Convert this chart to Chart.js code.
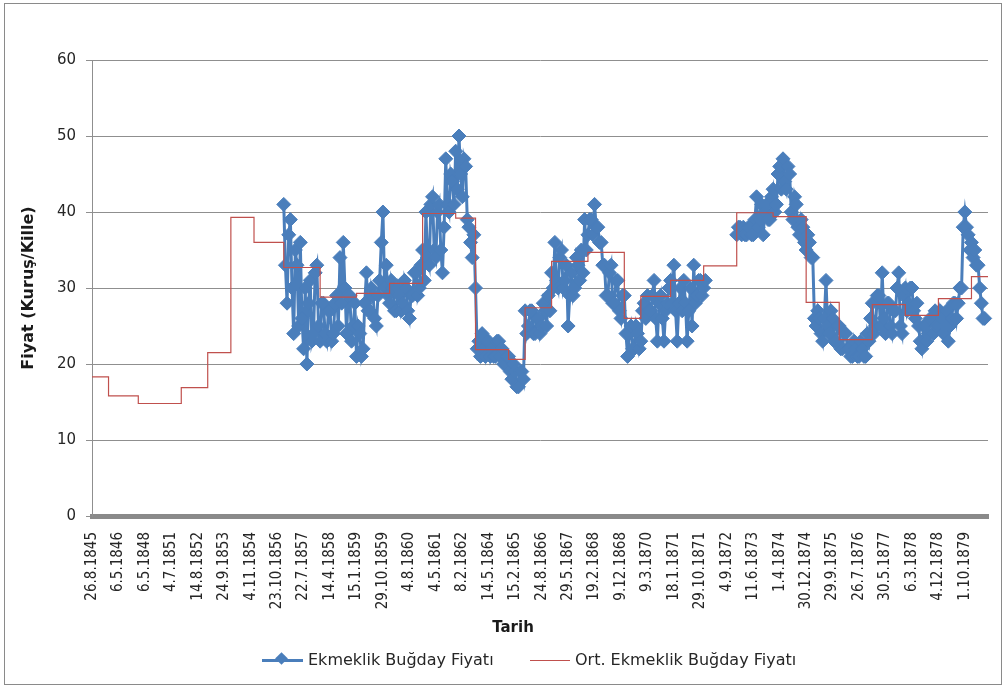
<!DOCTYPE html>
<html>
<head>
<meta charset="utf-8">
<script src="https://cdn.jsdelivr.net/npm/chart.js@4/dist/chart.umd.min.js"></script>
<style>
  html, body { margin: 0; padding: 0; background: #fff; }
  #wrap { position: relative; width: 1005px; height: 687px; }
  #frame { position: absolute; left: 4px; top: 3px; width: 996px; height: 680px; border: 1px solid #8a8a8a; pointer-events: none; }
  #xtitle { position: absolute; left: 463px; width: 100px; top: 618px; text-align: center;
            font: bold 15px 'DejaVu Sans', sans-serif; color: #1a1a1a; }
  .leg { position: absolute; top: 650px; font: 16px 'DejaVu Sans', sans-serif; color: #262626; white-space: nowrap; }
  .leg .sym { position: absolute; height: 0; }
  .leg .txt { position: absolute; top: 0; }
  #leg1 { left: 262px; } #leg2 { left: 530px; }
  #leg1 .sym { left: 0; width: 41px; border-top: 3px solid #4a7ebb; top: 9px; }
  #leg1 .dia { position: absolute; left: 15px; top: -8px; width: 9px; height: 9px; background: #4a7ebb; transform: rotate(45deg); }
  #leg2 .sym { left: 0; width: 40px; border-top: 1px solid #c0504d; top: 10px; }
  #leg1 .txt { left: 46px; } #leg2 .txt { left: 45px; }
</style>
</head>
<body>
<div id="wrap">
  <canvas id="chart" width="1005" height="687"></canvas>
  <div id="frame"></div>
  <div id="xtitle">Tarih</div>
  <div class="leg" id="leg1"><span class="sym"><span class="dia"></span></span><span class="txt">Ekmeklik Buğday Fiyatı</span></div>
  <div class="leg" id="leg2"><span class="sym"></span><span class="txt">Ort. Ekmeklik Buğday Fiyatı</span></div>
</div>
<script>
// Bread wheat price (kuruş per kile): single readings plus period averages.

const PER_TICK = 16;   // readings between two printed dates

const tickLabels = ['26.8.1845', '6.5.1846', '6.5.1848', '4.7.1851', '14.8.1852', '24.9.1853',
  '4.11.1854', '23.10.1856', '22.7.1857', '14.4.1858', '15.1.1859', '29.10.1859', '4.8.1860',
  '4.5.1861', '8.2.1862', '14.5.1864', '15.2.1865', '24.8.1866', '29.5.1867', '19.2.1868',
  '9.12.1868', '9.3.1870', '18.1.1871', '29.10.1871', '4.9.1872', '11.6.1873', '1.4.1874',
  '30.12.1874', '29.9.1875', '26.7.1876', '30.5.1877', '6.3.1878', '4.12.1878', '1.10.1879'];

const _ = null;
const price = [
  _, _, _, _, _, _, _, _, _, _, _, _, _, _, _, _, _, _, _, _,
  _, _, _, _, _, _, _, _, _, _, _, _, _, _, _, _, _, _, _, _,
  _, _, _, _, _, _, _, _, _, _, _, _, _, _, _, _, _, _, _, _,
  _, _, _, _, _, _, _, _, _, _, _, _, _, _, _, _, _, _, _, _,
  _, _, _, _, _, _, _, _, _, _, _, _, _, _, _, _, _, _, _, _,
  _, _, _, _, _, _, _, _, _, _, _, _, _, _, _, _,
  41, 33, 28, 37, 39, 30, 24, 35, 33, 25, 36, 26, 22, 30, 20, 28, 31, 23, 24, 32,
  33, 25, 23, 28, 28, 24, 23, 27, 27, 23, 24, 28, 29, 25, 34, 28, 36, 30, 24, 29,
  29, 23, 25, 28, 21, 25, 24, 21, 22, 28, 32, 27, 27, 30, 29, 26, 25, 29, 31, 36,
  40, 30, 33, 29, 28, 31, 30, 27, 27, 30, 29, 27, 28, 31, 30, 27, 26, 29, 29, 32,
  32, 29, 30, 33, 35, 31, 40, 34, 33, 41, 42, 35, 34, 40, 41, 35, 32, 38, 47, 41,
  40, 45, 44, 41, 48, 43, 50, 45, 42, 47, 46, 39, 38, 36, 34, 37, 30, 22, 23, 21,
  24, 22, 21, 23, 23, 21, 22, 21, 21, 23, 23, 21, 22, 20, 20, 21, 21, 19, 18, 20,
  19, 17, 17, 19, 19, 18, 27, 24, 25, 27, 27, 24, 24, 26, 26, 24, 25, 28, 27, 25,
  29, 27, 32, 30, 36, 31, 30, 34, 35, 30, 31, 33, 25, 29, 32, 29, 30, 34, 33, 31,
  35, 32, 39, 35, 37, 39, 39, 37, 41, 38, 38, 36, 36, 33, 33, 29, 29, 32, 33, 28,
  28, 31, 31, 27, 26, 29, 29, 24, 21, 24, 25, 22, 22, 25, 24, 22, 23, 27, 28, 26,
  29, 27, 27, 29, 31, 26, 23, 28, 29, 26, 23, 27, 28, 30, 31, 28, 33, 27, 23, 28,
  30, 27, 31, 28, 23, 27, 30, 25, 33, 28, 29, 31, 31, 29, 30, 31,
  _, _, _, _, _, _, _, _, _, _, _, _, _, _, _, _, _, _,
  37, 38, 38, 37, 38, 37, 37, 38, 38, 37, 37, 39, 42, 38, 39, 41, 37, 40, 41, 39,
  39, 42, 43, 40, 41, 45, 46, 43, 47, 44, 43, 46, 45, 40, 39, 42, 41, 38, 37, 39,
  38, 36, 35, 37, 36, 34, 34, 26, 25, 27, 26, 24, 23, 26, 31, 25, 24, 27, 26, 23,
  23, 25, 25, 22, 22, 24, 24, 22, 22, 21, 21, 23, 22, 21, 21, 23, 22, 21, 21, 24,
  23, 26, 28, 24, 25, 29, 29, 25, 32, 26, 24, 28, 28, 25, 24, 27, 27, 30, 32, 25,
  24, 29, 30, 27, 28, 30, 30, 27, 26, 28, 25, 23, 22, 25, 25, 23, 24, 26, 26, 24,
  27, 25, 25, 27, 26, 24, 25, 27, 23, 25, 26, 28, 28, 26, 28, 30, 30, 38, 40, 38,
  37, 35, 36, 34, 35, 33, 33, 30, 28, 26, 26, _,
  _
];

const avgPrice = [
  18.3, 18.3, 18.3, 18.3, 18.3, 18.3, 18.3, 18.3, 18.3, 18.3,
  15.8, 15.8, 15.8, 15.8, 15.8, 15.8, 15.8, 15.8, 15.8, 15.8, 15.8, 15.8, 15.8, 15.8, 15.8, 15.8, 15.8, 15.8,
  14.8, 14.8, 14.8, 14.8, 14.8, 14.8, 14.8, 14.8, 14.8, 14.8, 14.8, 14.8, 14.8,
  14.8, 14.8, 14.8, 14.8, 14.8, 14.8, 14.8, 14.8, 14.8, 14.8, 14.8, 14.8, 14.8,
  16.9, 16.9, 16.9, 16.9, 16.9, 16.9, 16.9, 16.9, 16.9, 16.9, 16.9, 16.9, 16.9, 16.9, 16.9, 16.9,
  21.5, 21.5, 21.5, 21.5, 21.5, 21.5, 21.5, 21.5, 21.5, 21.5, 21.5, 21.5, 21.5, 21.5,
  39.3, 39.3, 39.3, 39.3, 39.3, 39.3, 39.3, 39.3, 39.3, 39.3, 39.3, 39.3, 39.3, 39.3,
  36.0, 36.0, 36.0, 36.0, 36.0, 36.0, 36.0, 36.0, 36.0, 36.0, 36.0, 36.0, 36.0, 36.0, 36.0, 36.0, 36.0, 36.0,
  32.7, 32.7, 32.7, 32.7, 32.7, 32.7, 32.7, 32.7, 32.7, 32.7, 32.7,
  32.7, 32.7, 32.7, 32.7, 32.7, 32.7, 32.7, 32.7, 32.7, 32.7, 32.7,
  28.8, 28.8, 28.8, 28.8, 28.8, 28.8, 28.8, 28.8, 28.8, 28.8, 28.8,
  28.8, 28.8, 28.8, 28.8, 28.8, 28.8, 28.8, 28.8, 28.8, 28.8, 28.8,
  29.3, 29.3, 29.3, 29.3, 29.3, 29.3, 29.3, 29.3, 29.3, 29.3, 29.3, 29.3, 29.3, 29.3, 29.3, 29.3, 29.3, 29.3, 29.3, 29.3,
  30.6, 30.6, 30.6, 30.6, 30.6, 30.6, 30.6, 30.6, 30.6, 30.6, 30.6, 30.6, 30.6, 30.6, 30.6, 30.6, 30.6, 30.6, 30.6, 30.6,
  39.8, 39.8, 39.8, 39.8, 39.8, 39.8, 39.8, 39.8, 39.8, 39.8, 39.8, 39.8, 39.8, 39.8, 39.8, 39.8, 39.8, 39.8, 39.8, 39.8,
  39.2, 39.2, 39.2, 39.2, 39.2, 39.2, 39.2, 39.2, 39.2, 39.2, 39.2, 39.2,
  21.9, 21.9, 21.9, 21.9, 21.9, 21.9, 21.9, 21.9, 21.9, 21.9, 21.9, 21.9, 21.9, 21.9, 21.9, 21.9, 21.9, 21.9, 21.9, 21.9,
  20.6, 20.6, 20.6, 20.6, 20.6, 20.6, 20.6, 20.6, 20.6, 20.6,
  27.4, 27.4, 27.4, 27.4, 27.4, 27.4, 27.4, 27.4, 27.4, 27.4, 27.4, 27.4, 27.4, 27.4, 27.4, 27.4,
  33.5, 33.5, 33.5, 33.5, 33.5, 33.5, 33.5, 33.5, 33.5, 33.5, 33.5,
  33.5, 33.5, 33.5, 33.5, 33.5, 33.5, 33.5, 33.5, 33.5, 33.5, 33.5,
  34.7, 34.7, 34.7, 34.7, 34.7, 34.7, 34.7, 34.7, 34.7, 34.7, 34.7,
  34.7, 34.7, 34.7, 34.7, 34.7, 34.7, 34.7, 34.7, 34.7, 34.7, 34.7,
  26.0, 26.0, 26.0, 26.0, 26.0, 26.0, 26.0, 26.0, 26.0, 26.0,
  28.9, 28.9, 28.9, 28.9, 28.9, 28.9, 28.9, 28.9, 28.9, 28.9, 28.9, 28.9, 28.9, 28.9, 28.9, 28.9, 28.9, 28.9,
  31.0, 31.0, 31.0, 31.0, 31.0, 31.0, 31.0, 31.0, 31.0, 31.0, 31.0, 31.0, 31.0, 31.0, 31.0, 31.0, 31.0, 31.0, 31.0, 31.0,
  32.9, 32.9, 32.9, 32.9, 32.9, 32.9, 32.9, 32.9, 32.9, 32.9, 32.9, 32.9, 32.9, 32.9, 32.9, 32.9, 32.9, 32.9, 32.9, 32.9,
  39.9, 39.9, 39.9, 39.9, 39.9, 39.9, 39.9, 39.9, 39.9, 39.9, 39.9,
  39.9, 39.9, 39.9, 39.9, 39.9, 39.9, 39.9, 39.9, 39.9, 39.9, 39.9,
  39.4, 39.4, 39.4, 39.4, 39.4, 39.4, 39.4, 39.4, 39.4, 39.4, 39.4, 39.4, 39.4, 39.4, 39.4, 39.4, 39.4, 39.4, 39.4, 39.4,
  28.1, 28.1, 28.1, 28.1, 28.1, 28.1, 28.1, 28.1, 28.1, 28.1, 28.1, 28.1, 28.1, 28.1, 28.1, 28.1, 28.1, 28.1, 28.1, 28.1,
  23.2, 23.2, 23.2, 23.2, 23.2, 23.2, 23.2, 23.2, 23.2, 23.2, 23.2, 23.2, 23.2, 23.2, 23.2, 23.2, 23.2, 23.2, 23.2, 23.2,
  27.8, 27.8, 27.8, 27.8, 27.8, 27.8, 27.8, 27.8, 27.8, 27.8, 27.8, 27.8, 27.8, 27.8, 27.8, 27.8, 27.8, 27.8, 27.8, 27.8,
  26.4, 26.4, 26.4, 26.4, 26.4, 26.4, 26.4, 26.4, 26.4, 26.4, 26.4, 26.4, 26.4, 26.4, 26.4, 26.4, 26.4, 26.4, 26.4, 26.4,
  28.6, 28.6, 28.6, 28.6, 28.6, 28.6, 28.6, 28.6, 28.6, 28.6, 28.6, 28.6, 28.6, 28.6, 28.6, 28.6, 28.6, 28.6, 28.6, 28.6,
  31.5, 31.5, 31.5, 31.5, 31.5, 31.5, 31.5, 31.5, 31.5, 31.5, 31.5
];

// a date is printed under every PER_TICK-th reading
const categories = avgPrice.map((v, i) => (i % PER_TICK === 0 ? (tickLabels[i / PER_TICK] || '') : ''));

const BLUE = '#4a7ebb';
const RED = '#c0504d';
const TEXT = '#262626';
const GRID = '#8f8f8f';

new Chart(document.getElementById('chart'), {
  type: 'line',
  data: {
    labels: categories,
    datasets: [
      {
        label: 'Ekmeklik Buğday Fiyatı', data: price, order: 1,
        borderColor: BLUE, backgroundColor: BLUE, borderWidth: 3,
        pointStyle: 'rectRot', pointRadius: 7, pointBorderWidth: 1,
        pointBackgroundColor: BLUE, pointBorderColor: BLUE,
        spanGaps: false, tension: 0, clip: 8,
      },
      {
        label: 'Ort. Ekmeklik Buğday Fiyatı', data: avgPrice, order: 0,
        borderColor: RED, borderWidth: 1.2, pointRadius: 0, stepped: true, tension: 0,
      },
    ],
  },
  options: {
    responsive: false, animation: false, devicePixelRatio: 1,
    layout: { padding: { left: 10, right: 17, top: 60, bottom: 45 } },
    plugins: { legend: { display: false }, tooltip: { enabled: false } },
    scales: {
      x: {
        afterFit: s => { s.height = 126; s.paddingRight = 0; },
        grid: { display: false, drawTicks: false },
        border: { display: true, color: '#8a8a8a', width: 5 },
        ticks: {
          autoSkip: false, maxRotation: 90, minRotation: 90, padding: 16, color: TEXT,
          font: { family: "'DejaVu Sans Condensed', 'DejaVu Sans', sans-serif", size: 15 },
        },
      },
      y: {
        afterFit: s => { s.width = 82; },
        min: 0, max: 60,
        grid: { color: GRID, tickLength: 6 },
        border: { color: GRID },
        ticks: { stepSize: 10, padding: 10, color: TEXT, font: { family: 'DejaVu Sans', size: 15 } },
        title: {
          display: true, text: 'Fiyat (Kuruş/Kille)', color: '#1a1a1a',
          font: { family: 'DejaVu Sans', size: 16, weight: 'bold' }, padding: { top: 9, bottom: 0 },
        },
      },
    },
  },
});
</script>
</body>
</html>
